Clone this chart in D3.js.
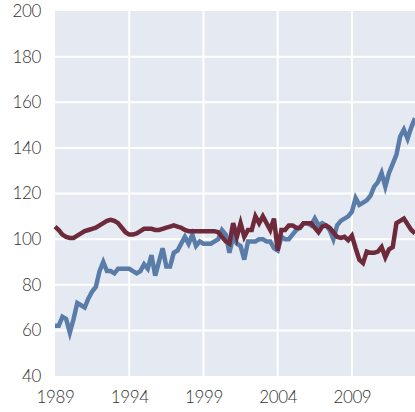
<!DOCTYPE html>
<html>
<head>
<meta charset="utf-8">
<script src="https://cdn.jsdelivr.net/npm/d3@7"></script>
<style>
  body { margin: 0; background: #fff; }
  svg text { font-family: Lato, "Open Sans", sans-serif; font-size: 17px; font-weight: 300; fill: #333; letter-spacing: -0.4px; }
</style>
</head>
<body>
<svg id="chart" width="415" height="412"></svg>
<script>
// quarterly, starting 1989 Q1
const startYear = 1989

const blueValues = [
  62, 62, 66, 65, 59, 65, 72, 71, 70, 74, 77, 79,
  86, 90, 86, 86, 85, 87, 87, 87, 87, 86, 85, 86,
  89, 87, 93, 84, 90, 96, 88, 88, 94, 95, 98, 101,
  98, 102, 97, 99, 98, 98, 98, 99, 100, 104, 102, 94,
  101, 98, 97, 91, 99, 99, 99, 100, 100, 99, 99, 96,
  95, 101, 100, 100, 102, 104, 105, 107, 107, 106, 109, 106,
  107, 106, 104, 100, 106, 108, 109, 110, 112, 118, 115, 116,
  117, 119, 123, 125, 129, 123, 129, 133, 137, 145, 148, 144,
  149, 153
]

const redValues = [
  105.5, 104, 102, 101, 100.5, 100.5, 101.5, 102.5, 103.5, 104, 104.5, 105,
  106, 107, 108, 108.5, 108, 107, 105, 103, 102, 102, 102.5, 103.5,
  104.5, 104.5, 104.5, 104, 104, 104.5, 105, 105.5, 106, 105.5, 105, 104,
  103.5, 103.5, 103.5, 103.5, 103.5, 103.5, 103.5, 103.5, 103, 101, 99, 98,
  107, 101, 107, 101, 104, 104, 110, 107, 110, 107, 104, 109,
  95, 104, 104, 106, 106, 105, 105, 107, 107, 107, 105, 103,
  105.5, 106, 105, 103, 101, 100.5, 101, 99.5, 101.5, 96, 91, 89.5,
  94.5, 94, 94, 94.5, 96.5, 92, 95.5, 96.5, 107, 108, 109, 106.5,
  104, 102.5
]

const yTicks = [40, 60, 80, 100, 120, 140, 160, 180, 200]
const xTicks = [1989, 1994, 1999, 2004, 2009]

const toSeries = values => values.map((v, i) => ({ t: startYear + i / 4, v: v }))
const blue = toSeries(blueValues)
const red = toSeries(redValues)

const margin = { top: 11, right: 0, bottom: 36, left: 55 }
const width = 415 - margin.left - margin.right
const height = 412 - margin.top - margin.bottom

const svg = d3.select('#chart')

const xScale = d3.scaleLinear()
  .domain([startYear, startYear + (blueValues.length - 1) / 4])
  .range([margin.left, margin.left + width])

const yScale = d3.scaleLinear()
  .domain([40, 200])
  .range([margin.top + height, margin.top])

svg.append('rect')
  .attr('x', margin.left)
  .attr('y', margin.top)
  .attr('width', width)
  .attr('height', height)
  .attr('fill', '#e5e9f1')

const grid = svg.append('g')

grid.selectAll('line.h')
  .data(yTicks.filter(d => d > 40 && d < 200))
  .enter()
  .append('line')
  .attr('class', 'h')
  .attr('x1', margin.left)
  .attr('x2', margin.left + width)
  .attr('y1', d => yScale(d))
  .attr('y2', d => yScale(d))
  .attr('stroke', '#fff')
  .attr('stroke-width', 2)

grid.selectAll('line.v')
  .data(xTicks.filter(d => d > startYear))
  .enter()
  .append('line')
  .attr('class', 'v')
  .attr('x1', d => xScale(d))
  .attr('x2', d => xScale(d))
  .attr('y1', margin.top)
  .attr('y2', margin.top + height)
  .attr('stroke', '#fff')
  .attr('stroke-width', 2)

const line = d3.line()
  .x(d => xScale(d.t))
  .y(d => yScale(d.v))

svg.append('path')
  .datum(blue)
  .attr('d', line)
  .attr('fill', 'none')
  .attr('stroke', '#5a7ca9')
  .attr('stroke-width', 4.5)
  .attr('stroke-linejoin', 'miter')

svg.append('path')
  .datum(red)
  .attr('d', line)
  .attr('fill', 'none')
  .attr('stroke', '#6c2a3b')
  .attr('stroke-width', 4.5)
  .attr('stroke-linejoin', 'miter')

const leftAxis = d3.axisLeft(yScale)
  .tickValues(yTicks)
  .tickSize(0)
  .tickPadding(14)

svg.append('g')
  .attr('transform', `translate(${margin.left}, 0)`)
  .call(leftAxis)
  .call(g => g.select('.domain').remove())
  .call(g => g.selectAll('text').attr('fill', '#333'))

const bottomAxis = d3.axisBottom(xScale)
  .tickValues(xTicks)
  .tickFormat(d3.format('d'))
  .tickSize(0)
  .tickPadding(15)

svg.append('g')
  .attr('transform', `translate(0, ${margin.top + height})`)
  .call(bottomAxis)
  .call(g => g.select('.domain').remove())
  .call(g => g.selectAll('text').attr('fill', '#333'))
</script>
</body>
</html>
